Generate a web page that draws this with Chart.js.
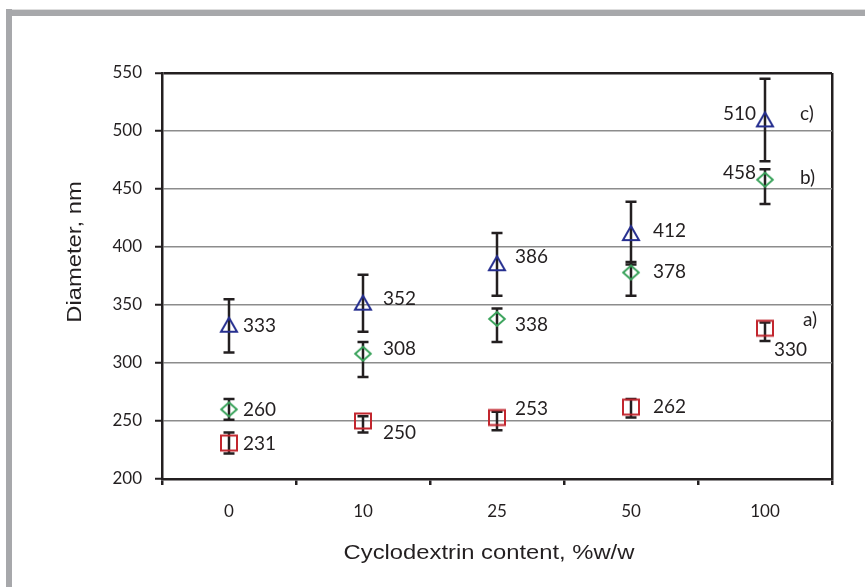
<!DOCTYPE html>
<html lang="en">
<head>
<meta charset="UTF-8">
<title>Particle diameter vs cyclodextrin content</title>
<script src="https://cdn.jsdelivr.net/npm/chart.js@4"></script>
<style>
    body { margin: 0; background: #fff; }
    .wrap { position: relative; width: 865px; height: 587px; overflow: hidden; }
    canvas { position: absolute; left: 0; top: 0; }
    .frame-top { position: absolute; left: 6px; top: 9px; width: 859px; height: 6px; background: #a7a8ab; border-top: 1px solid #dedede; }
    .frame-left { position: absolute; left: 6px; top: 9px; width: 6px; height: 578px; background: #a7a8ab; }
</style>
</head>
<body>
<div class="wrap">
    <canvas id="chart" width="865" height="587"></canvas>
    <div class="frame-top"></div>
    <div class="frame-left"></div>
</div>
<script>
// Cyclodextrin content categories (%w/w)
const categories = ['0', '10', '25', '50', '100'];

// Mean diameters (nm) for the three formulations
const seriesA = [231, 250, 253, 262, 330];
const seriesB = [260, 308, 338, 378, 458];
const seriesC = [333, 352, 386, 412, 510];

// Error bar limits (nm)
const lowA = [222, 240, 242, 253, 319];
const highA = [240, 254, 258, 269, 335];
const lowB = [251, 288, 318, 358, 437];
const highB = [269, 318, 347, 387, 467];
const lowC = [309, 327, 358, 385, 474];
const highC = [355, 376, 412, 439, 545];

// Y axis range
const yMin = 200;
const yMax = 550;
const yStep = 50;

const seriesNames = ['a)', 'b)', 'c)'];

const INK = '#231f20';
const RED = '#c2262e';
const GREEN = '#3ba35c';
const BLUE = '#262f8f';

// value label placement: [dx, dy, align] relative to the point
const labelPlace = [
    [[14, 1, 'left'], [20, 12, 'left'], [18, -9, 'left'], [22, 0, 'left'], [9, 22, 'left']],
    [[14, 0, 'left'], [20, -5, 'left'], [18, 6, 'left'], [22, -1, 'left'], [-9, -7, 'right']],
    [[14, 1, 'left'], [20, -4, 'left'], [18, -6, 'left'], [22, -2, 'left'], [-9, -6, 'right']]
];
// series name placement next to the last point
const namePlace = [[38, -8], [35, -2], [35, -6]];

function marker(kind, color) {
    const c = document.createElement('canvas');
    c.width = 20;
    c.height = 20;
    const g = c.getContext('2d');
    g.strokeStyle = color;
    g.lineWidth = 2;
    g.lineJoin = 'miter';
    g.beginPath();
    if (kind === 'triangle') {
        g.moveTo(10, 3);
        g.lineTo(18, 17);
        g.lineTo(2, 17);
        g.closePath();
    } else if (kind === 'diamond') {
        g.moveTo(10, 3);
        g.lineTo(17.8, 10);
        g.lineTo(10, 17);
        g.lineTo(2.2, 10);
        g.closePath();
    } else {
        g.rect(2, 2.5, 16, 15);
    }
    g.stroke();
    return c;
}

const errorBars = {
    id: 'errorBars',
    beforeDatasetsDraw(chart) {
        const ctx = chart.ctx;
        const y = chart.scales.y;
        const lows = [lowA, lowB, lowC];
        const highs = [highA, highB, highC];
        ctx.save();
        ctx.strokeStyle = INK;
        ctx.lineWidth = 2.5;
        chart.data.datasets.forEach((ds, i) => {
            chart.getDatasetMeta(i).data.forEach((pt, j) => {
                const yl = y.getPixelForValue(lows[i][j]);
                const yh = y.getPixelForValue(highs[i][j]);
                ctx.beginPath();
                ctx.moveTo(pt.x, yl);
                ctx.lineTo(pt.x, yh);
                ctx.moveTo(pt.x - 5.5, yl);
                ctx.lineTo(pt.x + 5.5, yl);
                ctx.moveTo(pt.x - 5.5, yh);
                ctx.lineTo(pt.x + 5.5, yh);
                ctx.stroke();
            });
        });
        ctx.restore();
    }
};

const valueLabels = {
    id: 'valueLabels',
    afterDatasetsDraw(chart) {
        const ctx = chart.ctx;
        ctx.save();
        ctx.fillStyle = INK;
        ctx.font = '19px Lato';
        ctx.textBaseline = 'middle';
        chart.data.datasets.forEach((ds, i) => {
            const pts = chart.getDatasetMeta(i).data;
            pts.forEach((pt, j) => {
                const p = labelPlace[i][j];
                ctx.textAlign = p[2];
                ctx.fillText(String(ds.data[j]), pt.x + p[0], pt.y + p[1]);
            });
            const last = pts[pts.length - 1];
            ctx.textAlign = 'left';
            ctx.fillText(seriesNames[i], last.x + namePlace[i][0], last.y + namePlace[i][1]);
        });
        ctx.restore();
    }
};

// axis titles, slightly widened along the baseline
const axisTitles = {
    id: 'axisTitles',
    afterDraw(chart) {
        const ctx = chart.ctx;
        const stretch = 1.16;
        ctx.save();
        ctx.fillStyle = INK;
        ctx.font = '20.5px "Liberation Sans"';
        ctx.textAlign = 'center';
        ctx.textBaseline = 'alphabetic';
        ctx.translate(489, 559);
        ctx.scale(stretch, 1);
        ctx.fillText('Cyclodextrin content, %w/w', 0, 0);
        ctx.restore();

        ctx.save();
        ctx.fillStyle = INK;
        ctx.font = '20.5px "Liberation Sans"';
        ctx.textAlign = 'center';
        ctx.textBaseline = 'alphabetic';
        ctx.translate(81, 252);
        ctx.rotate(-Math.PI / 2);
        ctx.scale(stretch, 1);
        ctx.fillText('Diameter, nm', 0, 0);
        ctx.restore();
    }
};

const pointDefaults = { showLine: false, pointRadius: 9, pointHoverRadius: 9 };

new Chart(document.getElementById('chart'), {
    type: 'line',
    data: {
        labels: categories,
        datasets: [
            { label: 'a)', data: seriesA, pointStyle: marker('square', RED), ...pointDefaults },
            { label: 'b)', data: seriesB, pointStyle: marker('diamond', GREEN), ...pointDefaults },
            { label: 'c)', data: seriesC, pointStyle: marker('triangle', BLUE), ...pointDefaults }
        ]
    },
    options: {
        responsive: false,
        devicePixelRatio: 1,
        animation: false,
        layout: { padding: { top: 73, right: 33, left: 0, bottom: 0 } },
        plugins: {
            legend: { display: false },
            tooltip: { enabled: false }
        },
        scales: {
            x: {
                offset: true,
                afterFit: s => { s.height = 108; },
                border: { display: true, color: INK, width: 2.5 },
                grid: {
                    offset: true,
                    color: c => (c.type === 'tick' ? 'rgba(0,0,0,0)' : INK),
                    lineWidth: 2.5,
                    tickColor: INK,
                    tickLength: 6,
                    tickWidth: 2.5
                },
                ticks: { color: INK, font: { family: 'Lato', size: 17 }, padding: 16, maxRotation: 0 }
            },
            y: {
                min: yMin,
                max: yMax,
                afterFit: s => { s.width = 162; },
                border: { display: true, color: INK, width: 2.5 },
                grid: {
                    color: c => (c.tick && c.tick.value === yMax ? INK : '#8c8c8c'),
                    lineWidth: c => (c.tick && c.tick.value === yMax ? 2.5 : 1.5),
                    tickColor: INK,
                    tickLength: 7,
                    tickWidth: 2
                },
                ticks: { stepSize: yStep, color: INK, font: { family: 'Lato', size: 17 }, padding: 13 }
            }
        }
    },
    plugins: [errorBars, valueLabels, axisTitles]
});
</script>
</body>
</html>
